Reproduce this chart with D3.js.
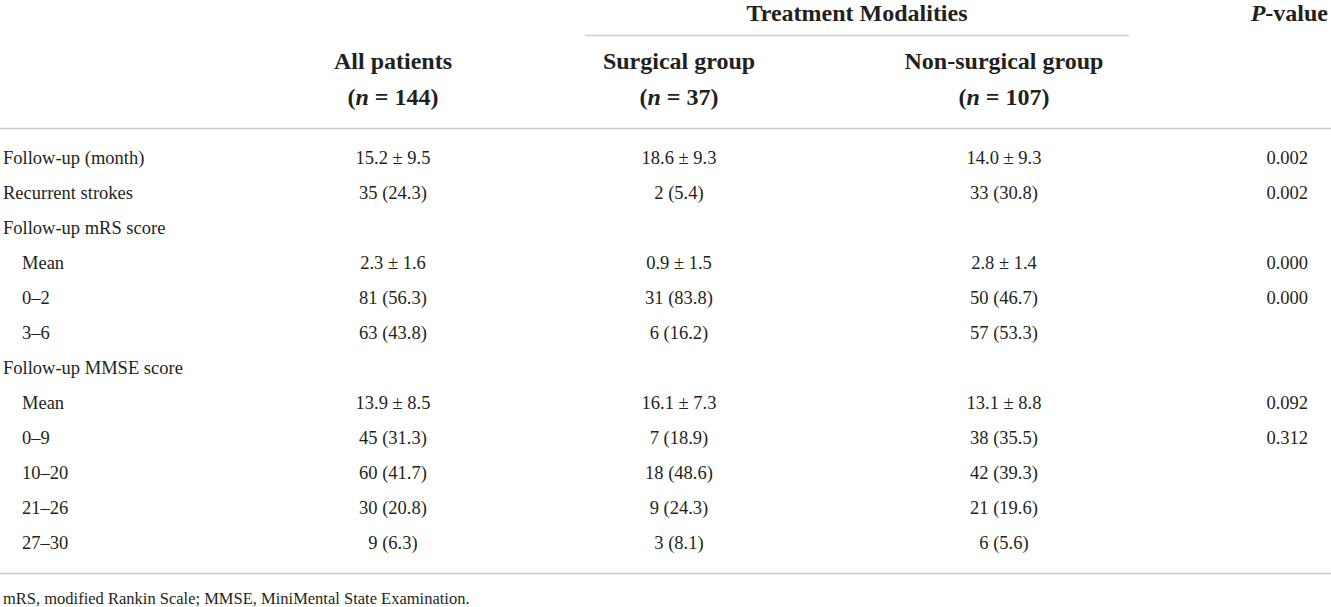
<!DOCTYPE html>
<html>
<head>
<meta charset="utf-8">
<script src="https://cdn.jsdelivr.net/npm/d3@7"></script>
<style>
  body { margin: 0; background: #fff; }
  svg text { font-family: "Liberation Serif", "DejaVu Serif", serif; fill: #231f20; }
</style>
</head>
<body>
<script>
var w = 1331;
var h = 607;

// table content
var columns = ["All patients", "Surgical group", "Non-surgical group"];
var columnN = ["144", "37", "107"];
var rowLabels = [
    "Follow-up (month)", "Recurrent strokes", "Follow-up mRS score",
    "Mean", "0–2", "3–6", "Follow-up MMSE score",
    "Mean", "0–9", "10–20", "21–26", "27–30"
];
var rowIndent = [0, 0, 0, 1, 1, 1, 0, 1, 1, 1, 1, 1];
var allPatients = ["15.2 ± 9.5", "35 (24.3)", "", "2.3 ± 1.6", "81 (56.3)", "63 (43.8)", "",
    "13.9 ± 8.5", "45 (31.3)", "60 (41.7)", "30 (20.8)", "9 (6.3)"];
var surgical = ["18.6 ± 9.3", "2 (5.4)", "", "0.9 ± 1.5", "31 (83.8)", "6 (16.2)", "",
    "16.1 ± 7.3", "7 (18.9)", "18 (48.6)", "9 (24.3)", "3 (8.1)"];
var nonSurgical = ["14.0 ± 9.3", "33 (30.8)", "", "2.8 ± 1.4", "50 (46.7)", "57 (53.3)", "",
    "13.1 ± 8.8", "38 (35.5)", "42 (39.3)", "21 (19.6)", "6 (5.6)"];
var pValues = ["0.002", "0.002", "", "0.000", "0.000", "", "", "0.092", "0.312", "", "", ""];
var footnote = "mRS, modified Rankin Scale; MMSE, MiniMental State Examination.";

var svg = d3.select("body")
    .append("svg")
    .attr("width", w)
    .attr("height", h);

/*
    Rows sit on a point scale, columns on an ordinal scale of centres.
*/
var yScale = d3.scalePoint()
    .domain(d3.range(rowLabels.length))
    .range([158, 543]);

var xScale = d3.scaleOrdinal()
    .domain(columns)
    .range([393, 679, 1004]);

var valueCols = [allPatients, surgical, nonSurgical];
var fs = 18.5;
var hs = 24;

// rules
var lineColor = "#cccccc";
svg.append("line").attr("x1", 585).attr("x2", 1129).attr("y1", 35.5).attr("y2", 35.5)
    .attr("stroke", lineColor).attr("stroke-width", 1.5);
svg.append("line").attr("x1", 0).attr("x2", w).attr("y1", 128.5).attr("y2", 128.5)
    .attr("stroke", lineColor).attr("stroke-width", 1.5);
svg.append("line").attr("x1", 0).attr("x2", w).attr("y1", 573.5).attr("y2", 573.5)
    .attr("stroke", lineColor).attr("stroke-width", 1.5);

// header
svg.append("text")
    .attr("x", 857).attr("y", 21)
    .attr("text-anchor", "middle")
    .style("font-size", hs + "px").style("font-weight", "bold")
    .text("Treatment Modalities");

var pv = svg.append("text")
    .attr("x", 1328).attr("y", 21)
    .attr("text-anchor", "end")
    .style("font-size", hs + "px").style("font-weight", "bold");
pv.append("tspan").style("font-style", "italic").text("P");
pv.append("tspan").text("-value");

svg.selectAll("text.colhead")
    .data(columns)
    .enter()
    .append("text")
    .attr("class", "colhead")
    .attr("x", function(d){ return xScale(d); })
    .attr("y", 69)
    .attr("text-anchor", "middle")
    .style("font-size", hs + "px").style("font-weight", "bold")
    .text(function(d){ return d; });

var nh = svg.selectAll("text.coln")
    .data(columns)
    .enter()
    .append("text")
    .attr("class", "coln")
    .attr("x", function(d){ return xScale(d); })
    .attr("y", 105)
    .attr("text-anchor", "middle")
    .style("font-size", hs + "px").style("font-weight", "bold");
nh.append("tspan").text("(");
nh.append("tspan").style("font-style", "italic").text("n");
nh.append("tspan").text(function(d, i){ return " = " + columnN[i] + ")"; });

// row labels
svg.selectAll("text.rowlabel")
    .data(rowLabels)
    .enter()
    .append("text")
    .attr("class", "rowlabel")
    .attr("x", function(d, i){ return rowIndent[i] ? 22 : 3; })
    .attr("y", function(d, i){ return yScale(i) + 6; })
    .style("font-size", fs + "px")
    .text(function(d){ return d; });

// values
valueCols.forEach(function(col, c){
    svg.selectAll("text.val" + c)
        .data(col)
        .enter()
        .append("text")
        .attr("class", "val" + c)
        .attr("x", xScale(columns[c]))
        .attr("y", function(d, i){ return yScale(i) + 6; })
        .attr("text-anchor", "middle")
        .style("font-size", fs + "px")
        .text(function(d){ return d; });
});

svg.selectAll("text.pval")
    .data(pValues)
    .enter()
    .append("text")
    .attr("class", "pval")
    .attr("x", 1308)
    .attr("y", function(d, i){ return yScale(i) + 6; })
    .attr("text-anchor", "end")
    .style("font-size", fs + "px")
    .text(function(d){ return d; });

svg.append("text")
    .attr("x", 3).attr("y", 604)
    .style("font-size", "16.5px")
    .text(footnote);
</script>
</body>
</html>
